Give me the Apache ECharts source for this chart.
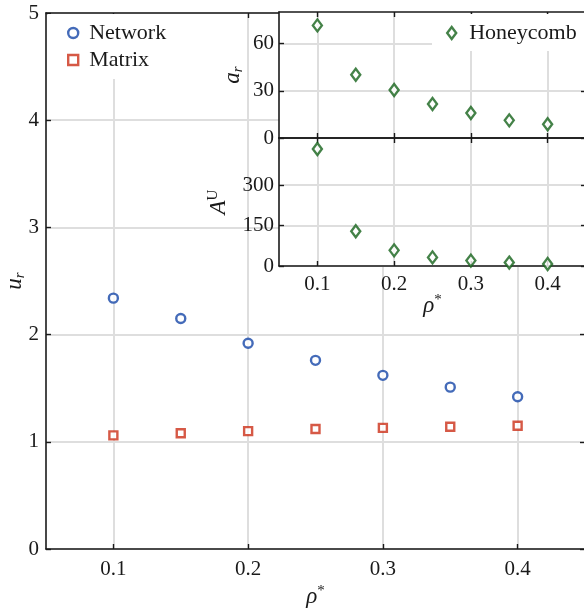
<!DOCTYPE html>
<html>
<head>
<meta charset="utf-8">
<script src="https://cdn.jsdelivr.net/npm/echarts@6/dist/echarts.min.js"></script>
<style>
  html, body { margin: 0; padding: 0; background: #fff; }
  #chart { width: 584px; height: 609px; }
</style>
</head>
<body>
<div id="chart"></div>
<script>
// data
const rho = [0.1, 0.15, 0.2, 0.25, 0.3, 0.35, 0.4];
const network = [2.34, 2.15, 1.92, 1.76, 1.62, 1.51, 1.42];
const matrix = [1.06, 1.08, 1.10, 1.12, 1.13, 1.14, 1.15];
const honeyAr = [71.5, 40.2, 30.5, 21.6, 15.9, 11.2, 8.7];
const honeyAU = [434, 129, 58, 32, 20, 12.6, 7.4];

// tick labels
const rhoTicks = [0.1, 0.2, 0.3, 0.4];
const urTicks = [0, 1, 2, 3, 4, 5];
const arTicks = [0, 30, 60];
const auTicks = [0, 150, 300];

const FONT = "'Liberation Serif', 'DejaVu Serif', serif";
const INK = '#1a1a1a';
const GRID = '#dedede';
const BLUE = '#1546a8', RED = '#cc3018', GREEN = '#15631a';

const zip = (xs, ys) => xs.map((x, i) => [x, ys[i]]);

// rich text for math-like axis names
const mathRich = {
  i: { fontFamily: FONT, fontStyle: 'italic', fontSize: 23, lineHeight: 26, color: INK },
  sub: { fontFamily: FONT, fontStyle: 'italic', fontSize: 15, lineHeight: 15, verticalAlign: 'bottom', color: INK },
  sup: { fontFamily: FONT, fontSize: 15, lineHeight: 15, verticalAlign: 'top', color: INK },
};

const label = { fontFamily: FONT, fontSize: 21, color: INK };

// one axis with MATLAB-like inward ticks; opts override
function axis(kind, o) {
  const a = {
    type: 'value',
    gridIndex: o.grid,
    position: o.pos,
    min: o.min, max: o.max,
    axisLine: { show: true, onZero: false, lineStyle: { color: INK, width: 1.6 } },
    axisTick: { show: true, inside: true, length: 5, lineStyle: { color: INK, width: 1.4 }, customValues: o.ticks },
    axisLabel: o.labels ? Object.assign({ customValues: o.ticks, margin: o.margin || 8 }, label) : { show: false },
    splitLine: { show: !!o.split, lineStyle: { color: GRID, width: 2 } },
    z: o.z || 0,
  };
  if (o.interval) a.interval = o.interval;
  if (o.name) {
    a.name = o.name;
    a.nameLocation = 'middle';
    a.nameGap = o.nameGap;
    a.nameMoveOverlap = false;
    a.nameTextStyle = { rich: mathRich };
  }
  return a;
}

const chart = echarts.init(document.getElementById('chart'), null, { renderer: 'canvas' });

chart.setOption({
  backgroundColor: '#fff',
  animation: false,
  textStyle: { fontFamily: FONT },
  grid: [
    { left: 46, top: 13, width: 539, height: 536, outerBoundsMode: 'none' },                       // main
    { left: 279, top: 12, width: 307, height: 126, show: true, backgroundColor: '#fff', borderWidth: 0, z: 3, outerBoundsMode: 'none' },  // inset a_r
    { left: 279, top: 138, width: 307, height: 128, show: true, backgroundColor: '#fff', borderWidth: 0, z: 3, outerBoundsMode: 'none' }, // inset A^U
  ],
  xAxis: [
    axis('x', { grid: 0, pos: 'bottom', min: 0.05, max: 0.45, ticks: rhoTicks, labels: true, split: true, margin: 10,
                name: '{i|ρ}{sup|*}', nameGap: 35 }),
    axis('x', { grid: 0, pos: 'top', min: 0.05, max: 0.45, ticks: rhoTicks }),
    axis('x', { grid: 1, pos: 'bottom', min: 0.05, max: 0.45, ticks: rhoTicks, split: true, z: 4 }),
    axis('x', { grid: 1, pos: 'top', min: 0.05, max: 0.45, ticks: rhoTicks, z: 4 }),
    axis('x', { grid: 2, pos: 'bottom', min: 0.05, max: 0.45, ticks: rhoTicks, labels: true, split: true, margin: 8, z: 4,
                name: '{i|ρ}{sup|*}', nameGap: 27 }),
    axis('x', { grid: 2, pos: 'top', min: 0.05, max: 0.45, ticks: rhoTicks, z: 4 }),
  ],
  yAxis: [
    axis('y', { grid: 0, pos: 'left', min: 0, max: 5, interval: 1, ticks: urTicks, labels: true, split: true, margin: 7,
                name: '{i|u}{sub|r}', nameGap: 18 }),
    axis('y', { grid: 0, pos: 'right', min: 0, max: 5, interval: 1, ticks: urTicks }),
    axis('y', { grid: 1, pos: 'left', min: 0, max: 80, interval: 30, ticks: arTicks, labels: true, split: true, margin: 5, z: 4,
                name: '{i|a}{sub|r}', nameGap: 33 }),
    axis('y', { grid: 1, pos: 'right', min: 0, max: 80, interval: 30, ticks: arTicks, z: 4 }),
    axis('y', { grid: 2, pos: 'left', min: 0, max: 475, interval: 150, ticks: auTicks, labels: true, split: true, margin: 5, z: 4,
                name: '{i|A}{sup|U}', nameGap: 47 }),
    axis('y', { grid: 2, pos: 'right', min: 0, max: 475, interval: 150, ticks: auTicks, z: 4 }),
  ],
  legend: [
    {
      left: 48, top: 14, orient: 'vertical', backgroundColor: '#fff',
      padding: [8, 14, 8, 19], itemGap: 5, itemWidth: 10, itemHeight: 10,
      textStyle: { fontFamily: FONT, fontSize: 22, color: INK, padding: [0, 0, 0, 6] },
      data: [
        { name: 'Network', icon: 'circle', itemStyle: { color: '#fff', borderColor: BLUE, borderWidth: 2.4 } },
        { name: 'Matrix', icon: 'rect', itemStyle: { color: '#fff', borderColor: RED, borderWidth: 2.4 } },
      ],
      z: 6,
    },
    {
      left: 432, top: 14, backgroundColor: '#fff',
      padding: [8, 20, 7, 14], itemWidth: 9, itemHeight: 12, symbolKeepAspect: false,
      textStyle: { fontFamily: FONT, fontSize: 22, color: INK, padding: [0, 0, 0, 8] },
      data: [
        { name: 'Honeycomb', icon: 'diamond', itemStyle: { color: '#fff', borderColor: GREEN, borderWidth: 2.4 } },
      ],
      z: 6,
    },
  ],
  series: [
    { name: 'Network', type: 'scatter', xAxisIndex: 0, yAxisIndex: 0, data: zip(rho, network),
      symbol: 'circle', symbolSize: 9, itemStyle: { color: '#fff', borderColor: BLUE, borderWidth: 2.4 }, z: 2 },
    { name: 'Matrix', type: 'scatter', xAxisIndex: 0, yAxisIndex: 0, data: zip(rho, matrix),
      symbol: 'rect', symbolSize: 8, itemStyle: { color: '#fff', borderColor: RED, borderWidth: 2.4 }, z: 2 },
    { name: 'Honeycomb', type: 'scatter', xAxisIndex: 2, yAxisIndex: 2, data: zip(rho, honeyAr),
      symbol: 'diamond', symbolSize: [9, 12], itemStyle: { color: '#fff', borderColor: GREEN, borderWidth: 2.4 }, z: 5 },
    { name: 'Honeycomb', type: 'scatter', xAxisIndex: 4, yAxisIndex: 4, data: zip(rho, honeyAU),
      symbol: 'diamond', symbolSize: [9, 12], itemStyle: { color: '#fff', borderColor: GREEN, borderWidth: 2.4 }, z: 5 },
  ],
});
</script>
</body>
</html>
